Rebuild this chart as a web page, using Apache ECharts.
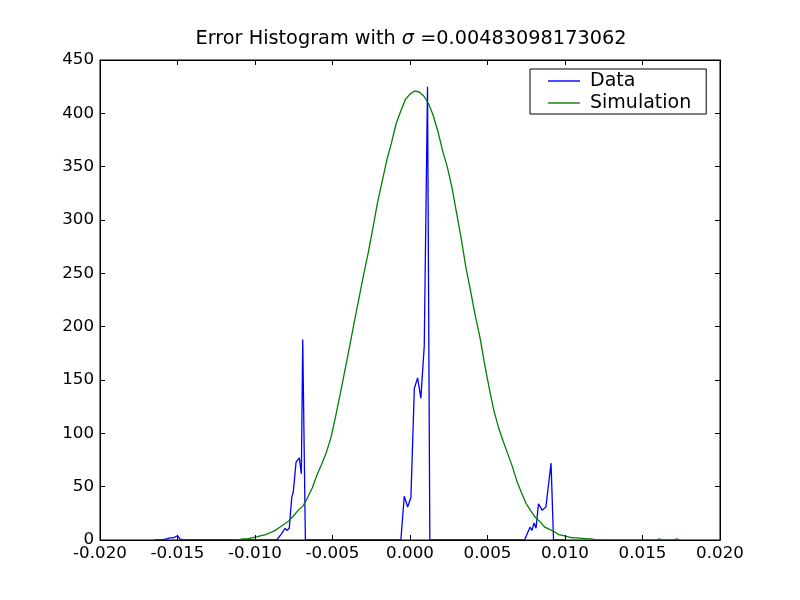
<!DOCTYPE html>
<html>
<head>
<meta charset="utf-8">
<script src="https://cdn.jsdelivr.net/npm/echarts@6/dist/echarts.min.js"></script>
<style>html,body{margin:0;padding:0;background:#fff}#c{width:800px;height:600px}</style>
</head>
<body>
<div id="c"></div>
<script>
// Data (blue) histogram line: x positions and counts
var dataX = [-0.0165, -0.0160, -0.0157, -0.01548, -0.01527, -0.01516, -0.0150, -0.01484, -0.0147,
  -0.0086, -0.00828, -0.00806, -0.00795, -0.00779, -0.00763, -0.00753, -0.00735, -0.00714, -0.00701, -0.00692, -0.00675,
  -0.00059, -0.00037, -0.00015, 0.00006, 0.00028, 0.00049, 0.00070, 0.00092, 0.00113, 0.00128,
  0.00739, 0.00774, 0.00787, 0.00800, 0.00813, 0.00829, 0.00852, 0.00877, 0.00910, 0.00926,
  0.0100];
var dataY = [0, 0, 1, 2, 2, 3, 4, 1, 0,
  0, 6, 11, 9, 11, 40, 45, 73, 77, 62, 188, 0,
  0, 41, 31, 40, 142, 152, 133, 182, 425, 0,
  0, 12, 9, 16, 11, 34, 28, 31, 72, 0,
  0];

// Simulation (green) histogram line
var simX = [-0.0114, -0.0111, -0.0108, -0.0105, -0.0102, -0.0099, -0.0096, -0.0093, -0.0090, -0.0087,
  -0.0084, -0.0081, -0.0078, -0.0075, -0.0072, -0.0069, -0.0066, -0.0063, -0.0060, -0.0057,
  -0.0054, -0.0051, -0.0048, -0.0045, -0.0042, -0.0039, -0.0036, -0.0033, -0.0030, -0.0027,
  -0.0024, -0.0021, -0.0018, -0.0015, -0.0012, -0.0009, -0.0006, -0.0003, 0.0000,
  0.0003, 0.0006, 0.0009, 0.0012, 0.0015, 0.0018, 0.0021, 0.0024, 0.0027, 0.0030,
  0.0033, 0.0036, 0.0039, 0.0042, 0.0045, 0.0048, 0.0051, 0.0054, 0.0057, 0.0060,
  0.0063, 0.0066, 0.0069, 0.0072, 0.0075, 0.0078, 0.0081, 0.0084, 0.0087, 0.0090,
  0.0093, 0.0096, 0.0099, 0.0102, 0.0105, 0.0108, 0.0111, 0.0114, 0.0117, 0.0120,
  0.0159, 0.0161, 0.0163, 0.0170, 0.0172, 0.0174];
var simY = [0, 0, 1, 1, 2, 3, 4, 5, 7, 9,
  12, 15, 18, 23, 28, 32, 40, 49, 61, 71,
  82, 96, 116, 137, 159, 181, 204, 226, 248, 269,
  292, 316, 336, 356, 372, 390, 402, 413, 418,
  421, 420, 416, 409, 398, 383, 365, 350, 331, 307,
  283, 256, 234, 211, 191, 166, 143, 122, 106, 93,
  81, 69, 55, 44, 34, 27, 21, 17, 12, 10,
  8, 5, 4, 3, 2, 2, 1.5, 1, 1, 0,
  0, 1, 0, 0, 1, 0];

var yTicks = [0, 50, 100, 150, 200, 250, 300, 350, 400, 450];
var xTickLabels = ['-0.020', '-0.015', '-0.010', '-0.005', '0.000', '0.005', '0.010', '0.015', '0.020'];

function pairs(xs, ys) { return xs.map(function (x, i) { return [x, ys[i]]; }); }

var FONT = 'DejaVu Sans';
var chart = echarts.init(document.getElementById('c'), null, {renderer: 'canvas'});
var tickStyle = {show: true, inside: true, length: 5, lineStyle: {color: '#000', width: 1}};
var lineAx = {show: true, onZero: false, lineStyle: {color: '#000', width: 1}};
chart.setOption({
  animation: false,
  backgroundColor: '#fff',
  title: {
    text: '{a|Error Histogram with }{s|σ}{a| =0.00483098173062}',
    left: 406, top: 24, textAlign: 'center',
    textStyle: {
      fontWeight: 'normal',
      rich: {
        a: {fontFamily: FONT, fontSize: 19.3, fontWeight: 'normal', color: '#000'},
        s: {fontFamily: FONT, fontSize: 19.3, fontWeight: 'normal', color: '#000', fontStyle: 'italic'}
      }
    }
  },
  legend: {
    orient: 'vertical', left: 530, top: 69,
    padding: [2, 15, 1, 18],
    itemWidth: 32, itemHeight: 1.4, itemGap: 2,
    borderColor: '#000', borderWidth: 1, borderRadius: 0,
    backgroundColor: '#fff',
    textStyle: {fontFamily: FONT, fontSize: 19, color: '#000', padding: [0, 0, 0, 5], lineHeight: 20, height: 20},
    data: [{name: 'Data', icon: 'rect'}, {name: 'Simulation', icon: 'rect'}]
  },
  grid: {left: 100, right: 80, top: 60, bottom: 60, show: true, borderColor: '#000', borderWidth: 1, backgroundColor: '#fff'},
  xAxis: [{
    type: 'value', min: -0.02, max: 0.02, interval: 0.005, z: 10,
    axisLine: lineAx, axisTick: tickStyle, splitLine: {show: false},
    axisLabel: {fontFamily: FONT, fontSize: 16.7, color: '#000', margin: 5,
      formatter: function (v) { return xTickLabels[Math.round((v + 0.02) / 0.005)]; }}
  }, {
    type: 'value', position: 'top', min: -0.02, max: 0.02, interval: 0.005, z: 10,
    axisLine: lineAx, axisTick: tickStyle, splitLine: {show: false}, axisLabel: {show: false}
  }],
  yAxis: [{
    type: 'value', min: 0, max: 450, interval: 50, z: 10,
    axisLine: lineAx, axisTick: tickStyle, splitLine: {show: false},
    axisLabel: {fontFamily: FONT, fontSize: 16.7, color: '#000', margin: 6,
      formatter: function (v) { return String(yTicks[Math.round(v / 50)]); }}
  }, {
    type: 'value', position: 'right', min: 0, max: 450, interval: 50, z: 10,
    axisLine: lineAx, axisTick: tickStyle, splitLine: {show: false}, axisLabel: {show: false}
  }],
  series: [{
    name: 'Data', type: 'line', data: pairs(dataX, dataY),
    symbol: 'none', showSymbol: false, z: 2,
    lineStyle: {color: '#0000ff', width: 1.3}, itemStyle: {color: '#0000ff'}
  }, {
    name: 'Simulation', type: 'line', data: pairs(simX, simY),
    symbol: 'none', showSymbol: false, z: 2,
    lineStyle: {color: '#008000', width: 1.3}, itemStyle: {color: '#008000'}
  }]
});
</script>
</body>
</html>
